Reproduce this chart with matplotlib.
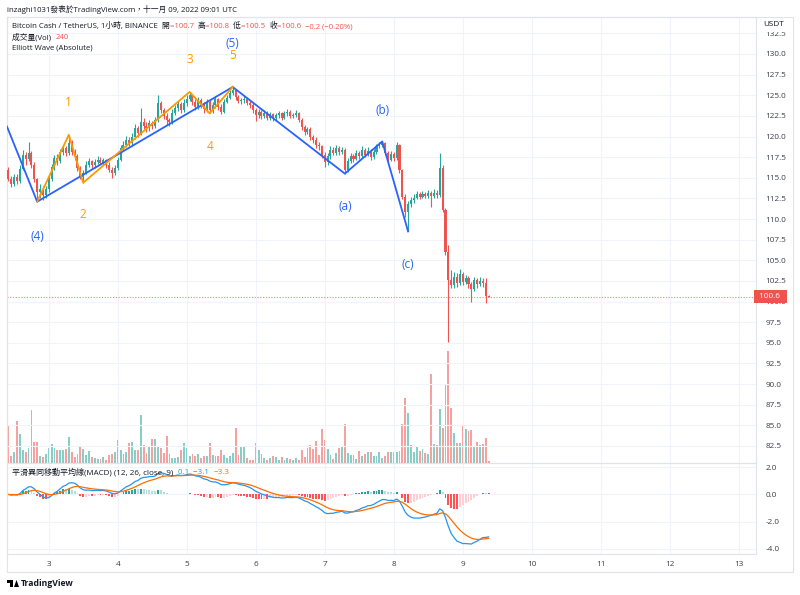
import numpy as np
import pandas as pd
import matplotlib.pyplot as plt
from matplotlib.patches import Rectangle, Polygon
from matplotlib.ticker import FormatStrFormatter

plt.rcParams['font.family'] = ['Open Sans', 'Noto Sans CJK TC', 'DejaVu Sans']

# hourly candles, Nov 2 10:00 -> Nov 9 09:00 (UTC)
first_open = 116.0
closes = [
    114.9, 114.3, 115.1, 114.6, 116.1, 117.8, 117.3, 118.0, 116.6, 114.8,
    113.3, 113.7, 112.9, 113.6, 114.9, 116.3, 117.4, 117.0, 118.1, 118.6,
    118.0, 119.2, 118.1, 117.6, 116.2, 115.1, 115.6, 116.6, 117.0, 116.5,
    116.9, 117.2, 116.8, 117.1, 116.6, 116.0, 115.6, 116.2, 117.2, 118.6,
    119.0, 119.6, 119.2, 120.0, 121.0, 120.4, 121.8, 121.3, 121.0, 121.6,
    121.3, 122.0, 124.0, 123.2, 122.5, 122.0, 121.7, 122.9, 123.4, 123.9,
    123.2, 124.0, 124.6, 125.0, 124.2, 123.6, 124.4, 123.9, 123.3, 124.2,
    123.2, 123.8, 124.5, 123.6, 123.0, 124.2, 124.7, 125.3, 125.6, 124.8,
    124.3, 124.4, 124.6, 124.1, 123.8, 123.2, 122.6, 123.0, 122.5, 122.9,
    122.3, 122.7, 122.3, 122.6, 122.8, 122.3, 122.8, 123.0, 122.5, 122.6,
    122.9, 122.0, 121.2, 120.6, 120.9, 119.9, 119.6, 119.0, 118.8, 117.8,
    116.9, 117.6, 118.4, 118.0, 118.6, 118.1, 118.4, 115.9, 117.0, 117.6,
    117.3, 118.0, 117.6, 118.4, 117.8, 118.3, 117.5, 118.1, 118.9, 119.0,
    119.2, 118.0, 117.2, 117.9, 117.4, 119.0, 115.9, 112.7, 110.9, 111.8,
    112.3, 112.6, 113.0, 112.7, 113.0, 112.8, 113.1, 112.8, 113.2, 112.9,
    116.2, 111.1, 106.0, 102.6, 102.0, 103.0, 102.2, 103.3, 102.4, 102.8,
    102.1, 101.5, 102.6, 102.1, 102.5, 102.2, 100.7, 100.6,
]
highs = [
    116.3, 115.2, 115.5, 115.4, 116.5, 118.4, 118.1, 119.3, 118.3, 116.9,
    115.0, 114.2, 114.0, 114.0, 115.3, 116.7, 117.8, 117.9, 118.5, 119.0,
    118.9, 120.2, 119.6, 118.5, 117.9, 116.4, 115.9, 117.0, 117.4, 117.2,
    117.3, 117.6, 117.5, 117.4, 117.3, 116.9, 116.3, 116.5, 117.5, 119.0,
    119.5, 120.1, 119.9, 120.4, 121.5, 121.3, 123.4, 122.2, 121.7, 122.0,
    121.9, 122.4, 125.0, 124.3, 123.5, 122.8, 122.3, 123.3, 123.8, 124.3,
    124.2, 124.5, 125.0, 125.4, 125.2, 124.5, 124.8, 124.7, 124.2, 124.6,
    124.4, 124.2, 124.9, 124.7, 123.9, 124.6, 125.0, 125.6, 126.0, 125.7,
    125.0, 124.7, 124.9, 124.8, 124.4, 124.0, 123.5, 123.3, 123.2, 123.2,
    123.1, 123.0, 122.9, 122.9, 123.1, 123.0, 123.1, 123.3, 123.2, 122.9,
    123.2, 123.0, 122.2, 121.4, 121.2, 121.1, 120.2, 119.9, 119.3, 119.0,
    118.1, 118.0, 118.8, 118.7, 119.0, 118.9, 118.7, 118.6, 117.4, 118.0,
    117.9, 118.4, 118.3, 118.8, 118.6, 118.7, 118.5, 118.5, 119.1, 119.3,
    119.4, 119.3, 118.3, 118.2, 118.1, 119.3, 119.1, 116.1, 113.0, 112.2,
    112.7, 113.0, 113.4, 113.3, 113.4, 113.3, 113.5, 113.4, 113.6, 113.5,
    118.0, 116.6, 111.3, 106.8, 103.8, 103.6, 103.5, 104.0, 103.6, 103.2,
    103.1, 102.4, 103.0, 102.9, 103.0, 102.8, 102.9, 100.8,
]
lows = [
    114.6, 113.9, 114.0, 114.2, 114.4, 115.9, 116.5, 117.0, 116.2, 114.5,
    112.1, 112.6, 112.3, 112.5, 113.3, 114.6, 116.0, 116.6, 116.8, 117.7,
    117.6, 117.8, 117.8, 117.2, 115.8, 114.8, 114.4, 115.4, 116.3, 116.1,
    116.2, 116.7, 116.5, 116.6, 116.2, 115.7, 115.0, 115.3, 115.9, 117.0,
    118.3, 118.7, 118.8, 118.9, 119.7, 120.0, 120.2, 120.9, 120.5, 120.7,
    120.9, 121.0, 121.8, 122.8, 122.1, 121.4, 121.3, 121.5, 122.6, 123.1,
    122.9, 123.0, 123.7, 124.3, 123.8, 123.2, 123.3, 123.5, 122.9, 123.0,
    122.8, 122.9, 123.5, 123.2, 122.7, 122.8, 124.0, 124.5, 125.0, 124.4,
    124.0, 123.9, 124.1, 123.8, 123.4, 122.9, 121.9, 122.3, 122.1, 122.2,
    122.0, 122.0, 121.9, 122.0, 122.3, 122.0, 122.1, 122.5, 122.2, 122.2,
    122.4, 121.7, 120.8, 120.2, 120.3, 119.6, 119.2, 118.6, 118.4, 117.4,
    116.3, 116.6, 117.3, 117.7, 117.8, 117.8, 117.9, 115.5, 115.7, 116.8,
    116.9, 117.1, 117.3, 117.4, 117.5, 117.6, 117.2, 117.3, 117.9, 118.6,
    118.7, 117.7, 116.9, 117.0, 117.0, 117.2, 115.6, 112.4, 110.3, 108.5,
    111.4, 112.0, 112.4, 112.4, 112.5, 112.5, 112.6, 111.5, 112.5, 112.6,
    112.7, 110.8, 105.6, 95.1, 101.6, 101.7, 101.8, 102.0, 102.0, 102.1,
    101.7, 100.0, 101.3, 101.7, 101.9, 101.8, 99.8, 100.5,
]
volumes = [
    5500, 1100, 1700, 6200, 4300, 1900, 1600, 2200, 7900, 3200,
    3200, 1100, 950, 1400, 2300, 2900, 2300, 2000, 1900, 2000,
    2100, 3900, 1700, 850, 1300, 2500, 2100, 1250, 1800, 850,
    800, 650, 650, 850, 450, 1200, 1300, 1700, 3400, 2000,
    1400, 1600, 3000, 3100, 2000, 2000, 7100, 2700, 1500, 2400,
    3600, 3600, 2600, 2200, 1500, 4100, 1400, 800, 750, 900,
    1900, 3000, 2200, 1000, 1300, 1100, 1350, 750, 1100,
    1100, 3000, 1250, 1100, 1000, 2000, 1250, 800, 1000, 1500,
    5250, 1250, 2500, 2500, 800, 500, 500, 3000, 1900, 1350,
    700, 400, 750, 1000, 900, 500, 900, 500, 750, 600,
    400, 750, 400, 2000, 900, 2250, 2700, 2150, 3300, 1250,
    5000, 3500, 2100, 1250, 650, 1500, 2200, 2400, 5750, 1500,
    1250, 1250, 650, 1800, 1100, 1300, 1700, 1700, 1000, 1000,
    1650, 800, 1000, 1700, 1600, 1600, 1600, 1850, 5750, 9650,
    7400, 2700, 1700, 2400, 1800, 2100, 1500, 1300, 13250, 2900,
    2700, 8100, 5250, 11750, 16700, 8250, 4500, 3000, 2950, 5600,
    5000, 4750, 4950, 2600, 3150, 2700, 2900, 3700, 240,
]

# Elliott wave pivots (candle index, price)
blue_idx = [-0.5, 10, 78]
blue_px = [121.2, 112.1, 126.0]
blue_labels = ["", "(4)", "(5)"]
abc_idx = [78, 117, 130, 139]
abc_px = [126.0, 115.5, 119.4, 108.5]
abc_labels = ["", "(a)", "(b)", "(c)"]
orange_idx = [10, 21, 26, 63, 70, 78]
orange_px = [112.1, 120.2, 114.4, 125.4, 122.8, 126.0]
orange_labels = ["", "1", "2", "3", "4", "5"]

days = [3, 4, 5, 6, 7, 8, 9, 10, 11, 12, 13]
first_midnight = 14  # index of Nov 3 00:00

green = '#26a69a'
red = '#ef5350'
text_dark = '#131722'
grid_c = '#f0f3fa'
border_c = '#e0e3eb'

df = pd.DataFrame({'close': closes, 'high': highs, 'low': lows, 'vol': volumes})
df['open'] = [first_open] + closes[:-1]
idx = np.arange(len(df))
up = df['close'] >= df['open']
ccol = np.where(up, green, red)

ema12 = df['close'].ewm(span=12, adjust=False).mean()
ema26 = df['close'].ewm(span=26, adjust=False).mean()
macd = ema12 - ema26
signal = macd.ewm(span=9, adjust=False).mean()
hist = macd - signal
prev = hist.shift(1).fillna(0)
hcol = np.where(hist >= 0, np.where(hist >= prev, '#26a69a', '#b2dfdb'),
                np.where(hist < prev, '#ff5252', '#ffcdd2'))

fig = plt.figure(figsize=(8, 5.95), dpi=100)
ax = fig.add_axes([7/800, 1-463/595, 749/800, 446/595])
axm = fig.add_axes([7/800, 1-554/595, 749/800, 91/595], sharex=ax)

# volume behind candles
axv = ax.twinx()
axv.set_zorder(0)
ax.set_zorder(1)
ax.patch.set_visible(False)
vcol = [(0.149, 0.651, 0.604, 0.55) if u else (0.937, 0.325, 0.314, 0.55) for u in up]
axv.bar(idx, df['vol'], width=0.65, color=vcol)
axv.set_ylim(0, 66500)
axv.set_yticks([])
for s in axv.spines.values():
    s.set_visible(False)

# candles
ax.vlines(idx, df['low'], df['high'], colors=ccol, lw=0.8, zorder=3)
body_lo = np.minimum(df['open'], df['close'])
body_h = np.maximum(np.abs(df['close'] - df['open']), 0.08)
ax.bar(idx, body_h, bottom=body_lo, width=0.72, color=ccol, zorder=3)

# elliott waves
ax.plot(blue_idx, blue_px, color='#2962ff', lw=1.3, zorder=4)
ax.plot(abc_idx, abc_px, color='#2962ff', lw=1.3, zorder=4)
ax.plot(orange_idx, orange_px, color='#ff9800', lw=1.3, zorder=4)

lab_off = {"(4)": -4.2, "(5)": 5.3, "(a)": -4.0, "(b)": 3.7, "(c)": -4.0,
           "1": 3.9, "2": -3.8, "3": 3.9, "4": -4.0, "5": 3.8}
for xs, ys, ls, c in [(blue_idx, blue_px, blue_labels, '#2962ff'),
                      (abc_idx, abc_px, abc_labels, '#2962ff'),
                      (orange_idx, orange_px, orange_labels, '#ff9800')]:
    for xi, yi, lab in zip(xs, ys, ls):
        if lab:
            ax.text(xi, yi + lab_off[lab], lab, color=c, fontsize=8.5,
                    ha='center', va='center', zorder=5)

# last price line + label
last = closes[-1]
ax.axhline(last, color=red, lw=0.8, ls=(0, (1, 1.5)), alpha=0.7, zorder=2)
ax.text(1.0015, last, f" {last:.1f}  ", transform=ax.get_yaxis_transform(),
        color='white', fontsize=5.9, ha='left', va='center', zorder=6,
        bbox=dict(boxstyle='square,pad=0.35', fc=red, ec='none'), clip_on=False)

ax.set_xlim(-0.5, 260)
ax.set_ylim(80.44, 134.48)
ax.set_yticks(np.arange(82.5, 134, 2.5))
ax.yaxis.set_major_formatter(FormatStrFormatter('%.1f'))
ax.yaxis.tick_right()
ax.tick_params(axis='y', length=0, pad=7, labelsize=5.9, labelcolor='#3b3e48')
ax.tick_params(axis='x', length=0, labelbottom=False)
ax.grid(color=grid_c, lw=0.8, zorder=0)
for s in ax.spines.values():
    s.set_color(border_c)
    s.set_linewidth(0.8)

# MACD pane
axm.bar(idx, hist, width=0.65, color=hcol)
axm.plot(idx, macd, color='#2196f3', lw=0.9)
axm.plot(idx, signal, color='#ff6d00', lw=0.9)
axm.set_ylim(-4.37, 2.31)
axm.set_yticks([-4, -2, 0, 2])
axm.yaxis.set_major_formatter(FormatStrFormatter('%.1f'))
axm.yaxis.tick_right()
axm.tick_params(axis='y', length=0, pad=7, labelsize=5.9, labelcolor='#3b3e48')
axm.set_xticks([first_midnight + 24 * (d - 3) for d in days])
axm.set_xticklabels([str(d) for d in days])
axm.tick_params(axis='x', length=0, pad=5, labelsize=5.9, labelcolor='#3b3e48')
axm.grid(color=grid_c, lw=0.8)
axm.set_axisbelow(True)
for s in axm.spines.values():
    s.set_color(border_c)
    s.set_linewidth(0.8)

# outer frame
fig.add_artist(Rectangle((7/800, 1-572/595), 786/800, 555/595, transform=fig.transFigure,
                         fill=False, ec=border_c, lw=0.8))

# texts
fs = 5.6
fig.text(7/800, 1-9/595, "inzaghi1031發表於TradingView.com，十一月 09, 2022 09:01 UTC",
         fontsize=5.6, color=text_dark, va='center')


def chain(x, y, parts, size):
    t = fig.text(x, y, parts[0][0], color=parts[0][1], fontsize=size, va='center')
    for s, c in parts[1:]:
        t = ax.annotate(s, xy=(1, 0), xycoords=t, va='bottom', color=c,
                        fontsize=size, annotation_clip=False)


chain(12/800, 1-26/595, [("Bitcoin Cash / TetherUS, 1小時, BINANCE  ", text_dark),
                         ("開", text_dark), ("=100.7  ", red),
                         ("高", text_dark), ("=100.8  ", red),
                         ("低", text_dark), ("=100.5  ", red),
                         ("收", text_dark), ("=100.6  ", red),
                         ("−0.2 (−0.20%)", red)], fs)
chain(12/800, 1-37/595, [("成交量(Vol)  ", text_dark), ("240", red)], fs)
fig.text(12/800, 1-48/595, "Elliott Wave (Absolute)", fontsize=fs, color=text_dark, va='center')
chain(12/800, 1-472/595, [("平滑異同移動平均線(MACD) (12, 26, close, 9)  ", text_dark),
                          ("0.1  ", '#26a69a'), ("−3.1  ", '#2196f3'),
                          ("−3.3", '#ff6d00')], 5.8)

fig.text(774/800, 1-25/595, "USDT", fontsize=5.9, color=text_dark, ha='center', va='center',
         bbox=dict(boxstyle='square,pad=0.4', fc='white', ec='none'))

# logo
fig.add_artist(Polygon([(7/800, 1-580/595), (13/800, 1-580/595), (13/800, 1-587/595),
                        (10/800, 1-587/595), (10/800, 1-583/595), (7/800, 1-583/595)],
                       closed=True, transform=fig.transFigure, fc='black', ec='none'))
fig.add_artist(Polygon([(14/800, 1-587/595), (16.5/800, 1-580/595), (19/800, 1-587/595)],
                       closed=True, transform=fig.transFigure, fc='black', ec='none'))
fig.text(21/800, 1-583.5/595, "TradingView", fontsize=6.2, color=text_dark, va='center',
         fontweight='bold')

fig.savefig("out.png", dpi=100)
